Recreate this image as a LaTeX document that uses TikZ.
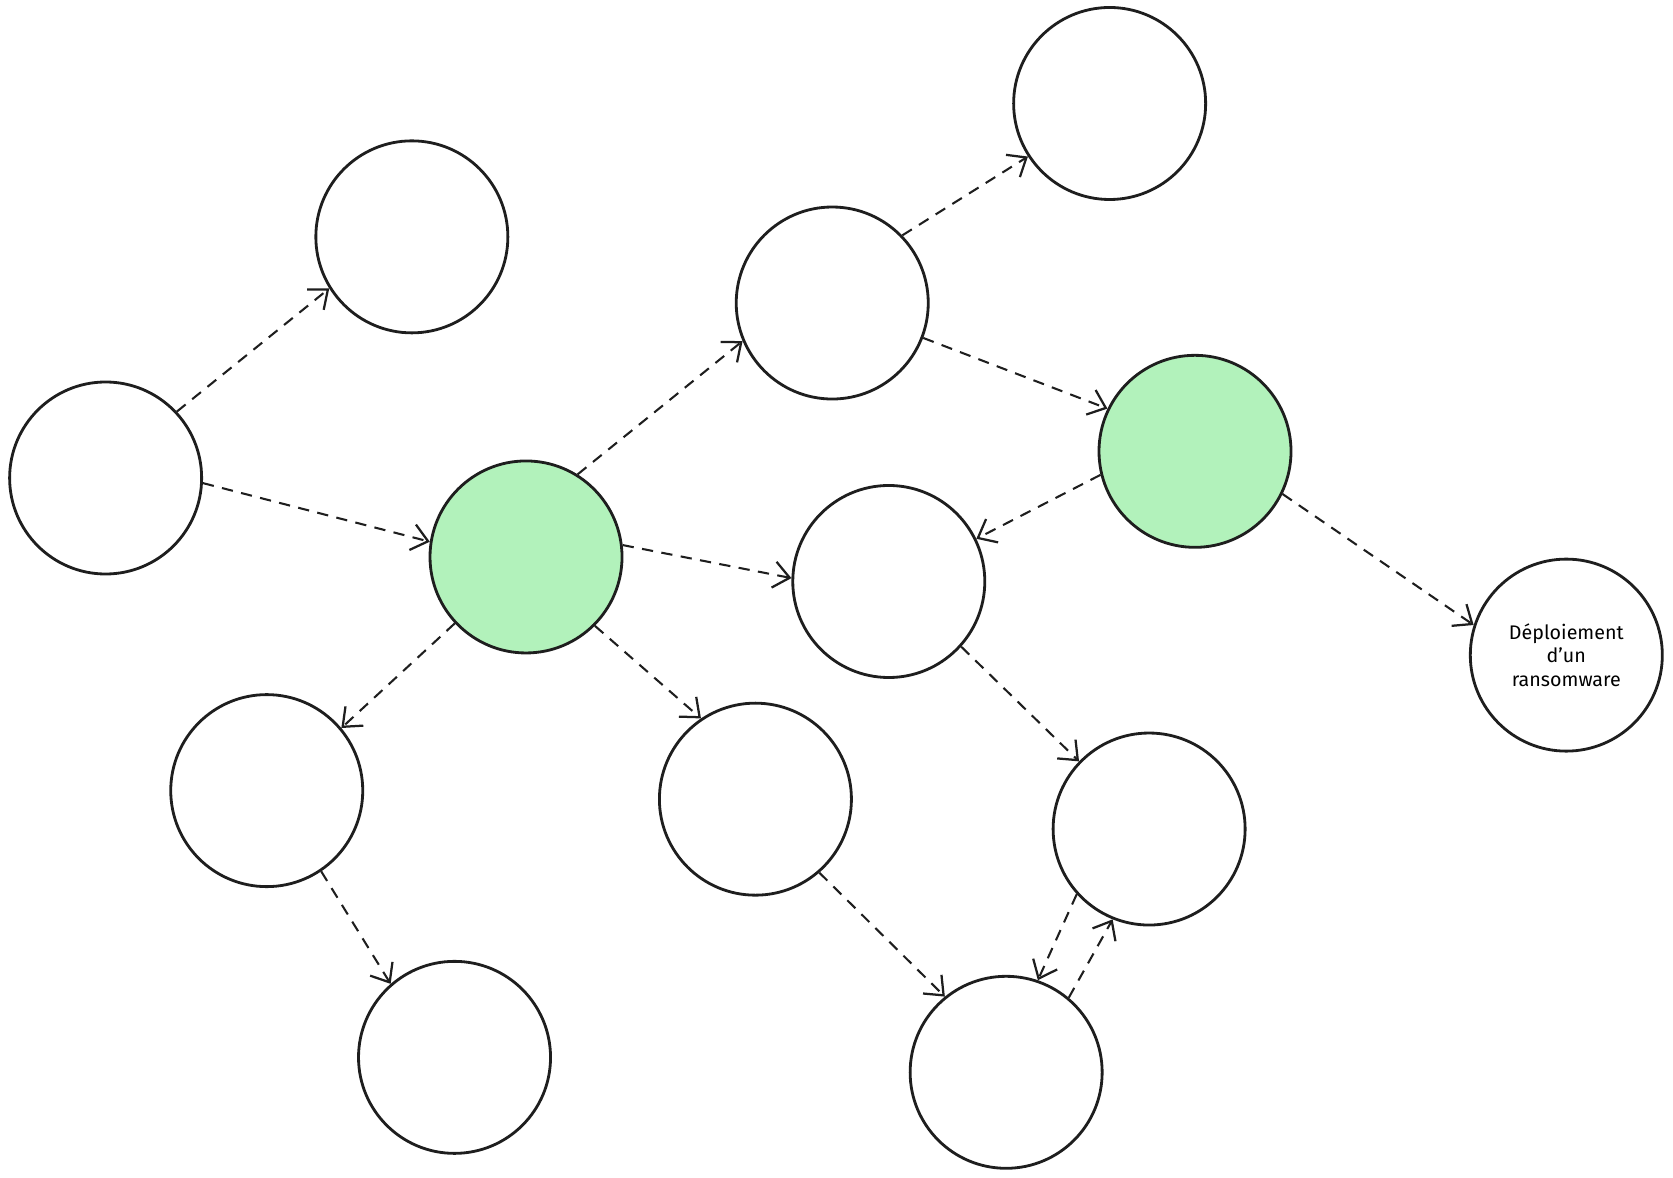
\documentclass[tikz,border=0pt]{standalone}
\usepackage{fontspec}
\setmainfont{Fira Sans}
\usetikzlibrary{arrows.meta}
\definecolor{ink}{HTML}{1E1E1E}
\definecolor{compromised}{HTML}{B2F2BB}

\begin{document}
\begin{tikzpicture}[x=0.02cm, y=-0.02cm,
        every node/.style={font=\fontsize{10.5}{12.5}\selectfont, inner sep=1pt},
        host/.style={circle, draw=ink, line width=1.5pt, minimum size=3.6cm, align=center},
        pivot/.style={host, fill=compromised},
        hop/.style={draw=ink, line width=1.1pt, dash pattern=on 6pt off 4.5pt,
            -{Straight Barb[length=8.5pt, width=14pt, line width=1.2pt]}}]
    % Page frame
    \useasboundingbox (0,0) rectangle (1568,1104);

    % Hosts
    \node[host]  (entry)  at (99,448)   {};
    \node[host]  (leafA)  at (386,222)  {};
    \node[pivot] (pivA)   at (493,522)  {};
    \node[host]  (hubA)   at (780,284)  {};
    \node[host]  (leafB)  at (1040,97)  {};
    \node[pivot] (pivB)   at (1120,423) {};
    \node[host]  (hubB)   at (833,545)  {};
    \node[host]  (target) at (1468,614) {D\'eploiement\\d'un\\ransomware};
    \node[host]  (hostC)  at (250,741)  {};
    \node[host]  (hostD)  at (708,749)  {};
    \node[host]  (hostE)  at (1077,777) {};
    \node[host]  (leafC)  at (426,991)  {};
    \node[host]  (hostF)  at (943,1005) {};

    % Lateral movement
    \draw[hop] (entry.43)  -- (leafA.212);
    \draw[hop] (entry.-3)  -- (pivA.171);
    \draw[hop] (pivA.58)   -- (hubA.203);
    \draw[hop] (pivA.7)    -- (hubB.178);
    \draw[hop] (pivA.223)  -- (hostC.40);
    \draw[hop] (pivA.315)  -- (hostD.124);
    \draw[hop] (hubA.44)   -- (leafB.213);
    \draw[hop] (hubA.-21)  -- (pivB.154);
    \draw[hop] (pivB.194)  -- (hubB.26);
    \draw[hop] (pivB.-26)  -- (target.162);
    \draw[hop] (hubB.318)  -- (hostE.136);
    \draw[hop] (hostC.-56) -- (leafC.131);
    \draw[hop] (hostD.-49) -- (hostF.129);

    % Back and forth between E and F
    \draw[hop] (hostE.222) -- (hostF.71);
    \draw[hop] (hostF.50)  -- (hostE.248);
\end{tikzpicture}
\end{document}
